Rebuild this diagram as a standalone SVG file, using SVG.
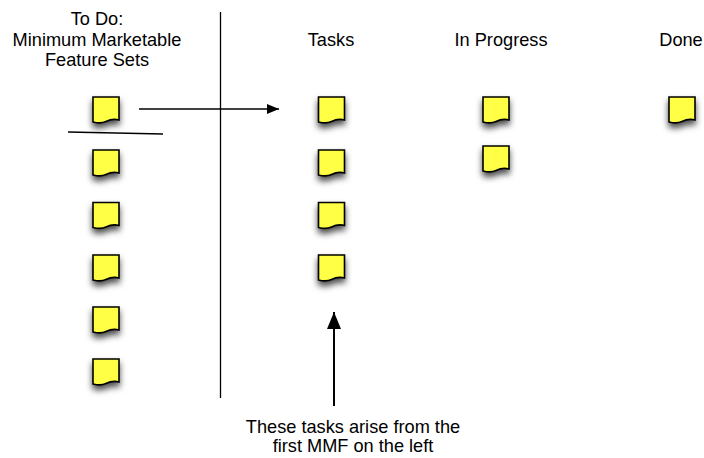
<svg xmlns="http://www.w3.org/2000/svg" xmlns:xlink="http://www.w3.org/1999/xlink" width="704" height="458" viewBox="0 0 704 458">
<style>
text{font-family:"Liberation Sans",Arial,Helvetica,sans-serif;font-size:18.2px;fill:#000;text-anchor:middle}
.ln{stroke:#000;fill:none}
.note{fill:#FFFF44;stroke:#000;stroke-width:1.6;filter:url(#sh)}
</style>
<defs>
<filter id="sh" x="-50%" y="-50%" width="200%" height="230%">
<feDropShadow dx="0" dy="4.5" stdDeviation="3" flood-color="#000" flood-opacity="0.7"/>
</filter>
<path id="n" class="note" d="M0,0 H26 V23 C21,21.5 17,22.5 13,24.5 C9,26.5 4,26 0,25 Z"/>
<marker id="ah" markerWidth="12" markerHeight="10" refX="12" refY="5" orient="auto" markerUnits="userSpaceOnUse">
<path d="M0,0 L12,5 L0,10 Z" fill="#000"/>
</marker>
<marker id="ah2" markerWidth="17" markerHeight="14" refX="17" refY="7" orient="auto" markerUnits="userSpaceOnUse">
<path d="M0,0 L17,7 L0,14 Z" fill="#000"/>
</marker>
</defs>
<rect width="704" height="458" fill="#fff"/>
<g id="labels">
<text x="97" y="25">To Do:</text>
<text x="97" y="46">Minimum Marketable</text>
<text x="97" y="66">Feature Sets</text>
<text x="331" y="46">Tasks</text>
<text x="501" y="46">In Progress</text>
<text x="681" y="46">Done</text>
<text x="353" y="433">These tasks arise from the</text>
<text x="353" y="452">first MMF on the left</text>
</g>
<g id="connectors">
<line class="ln" x1="220.5" y1="12" x2="220.5" y2="398" stroke-width="1.3"/>
<line class="ln" x1="68" y1="132" x2="163" y2="134" stroke-width="1.3"/>
<line class="ln" x1="139" y1="109" x2="279" y2="109" stroke-width="1.3" marker-end="url(#ah)"/>
<line class="ln" x1="334" y1="406" x2="334" y2="312" stroke-width="2" marker-end="url(#ah2)"/>
</g>
<g id="todo1" transform="translate(93,97)"><use xlink:href="#n"/></g>
<g id="todo2" transform="translate(93,150)"><use xlink:href="#n"/></g>
<g id="todo3" transform="translate(93,202.5)"><use xlink:href="#n"/></g>
<g id="todo4" transform="translate(93,255)"><use xlink:href="#n"/></g>
<g id="todo5" transform="translate(93,307)"><use xlink:href="#n"/></g>
<g id="todo6" transform="translate(93,359)"><use xlink:href="#n"/></g>
<g id="task1" transform="translate(318.5,97)"><use xlink:href="#n"/></g>
<g id="task2" transform="translate(318.5,150)"><use xlink:href="#n"/></g>
<g id="task3" transform="translate(318.5,202.5)"><use xlink:href="#n"/></g>
<g id="task4" transform="translate(318.5,255)"><use xlink:href="#n"/></g>
<g id="prog1" transform="translate(483,97)"><use xlink:href="#n"/></g>
<g id="prog2" transform="translate(483,146)"><use xlink:href="#n"/></g>
<g id="done1" transform="translate(669,97)"><use xlink:href="#n"/></g>
</svg>
